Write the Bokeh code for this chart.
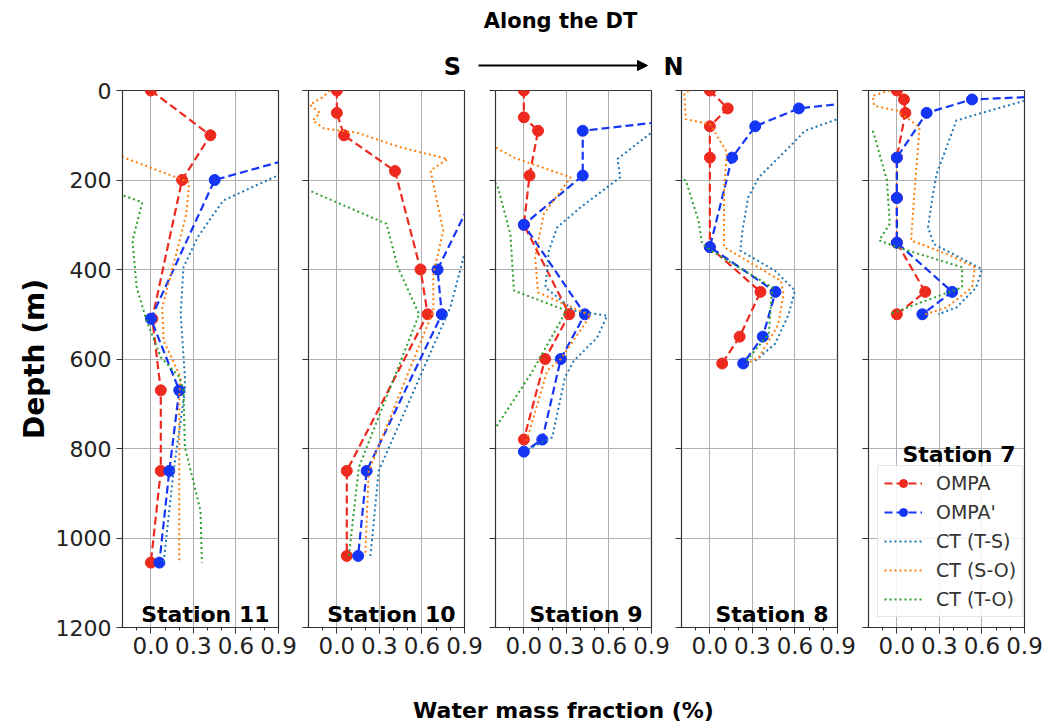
from bokeh.plotting import figure
from bokeh.models import (Range1d, FixedTicker, PrintfTickFormatter, CustomJSTickFormatter,
                          Label, Legend, LegendItem, Arrow, NormalHead)
from bokeh.layouts import row, column
from bokeh.embed import file_html
from bokeh.resources import INLINE

# ---------------- data ----------------
stations = ["Station 11", "Station 10", "Station 9", "Station 8", "Station 7"]
x_ticks = [0.0, 0.3, 0.6, 0.9]
x_minor = [-0.1, 0.1, 0.2, 0.4, 0.5, 0.7, 0.8]
depth_ticks = [0, 200, 400, 600, 800, 1000, 1200]
legend_labels = ["OMPA", "OMPA'", "CT (T-S)", "CT (S-O)", "CT (T-O)"]

# Station 11
s11_ompa_depth = [0, 100, 200, 510, 670, 850, 1055]
s11_ompa = [0.0, 0.42, 0.22, 0.01, 0.07, 0.07, 0.0]
s11_ompa2_depth = [0, 100, 200, 510, 670, 850, 1055]
s11_ompa2 = [1.3, 1.58, 0.45, 0.0, 0.2, 0.13, 0.06]
s11_ts_depth = [150, 189, 246, 328, 395, 500, 640, 670, 850, 1055]
s11_ts = [1.17, 0.9, 0.51, 0.33, 0.23, 0.21, 0.24, 0.24, 0.16, 0.09]
s11_so_depth = [100, 151, 205, 276, 388, 485, 559, 641, 680, 1055]
s11_so = [-0.6, -0.18, 0.27, 0.25, 0.16, 0.08, 0.09, 0.21, 0.2, 0.2]
s11_to_depth = [200, 235, 250, 336, 440, 514, 596, 640, 670, 797, 939, 1055]
s11_to = [-0.49, -0.19, -0.06, -0.13, -0.1, -0.03, 0.07, 0.2, 0.23, 0.24, 0.35, 0.36]

# Station 10
s10_ompa_depth = [0, 50, 100, 180, 400, 500, 850, 1040]
s10_ompa = [0.0, 0.0, 0.05, 0.41, 0.59, 0.64, 0.07, 0.07]
s10_ompa2_depth = [0, 50, 100, 180, 400, 500, 850, 1040]
s10_ompa2 = [1.3, 1.3, 1.2, 1.05, 0.71, 0.74, 0.21, 0.15]
s10_ts_depth = [180, 365, 485, 850, 1040]
s10_ts = [1.1, 0.9, 0.8, 0.295, 0.237]
s10_so_depth = [0, 15, 32, 50, 67, 85, 94, 127, 153, 179, 313, 410, 492, 850, 1040]
s10_so = [-0.05, -0.1, -0.19, -0.12, -0.17, -0.09, 0.14, 0.45, 0.78, 0.66, 0.75, 0.68, 0.68, 0.225, 0.2]
s10_to_depth = [200, 224, 298, 395, 500, 842, 1040]
s10_to = [-0.45, -0.19, 0.35, 0.43, 0.58, 0.155, 0.085]

# Station 9
s9_ompa_depth = [0, 60, 90, 190, 300, 500, 600, 780]
s9_ompa = [0.0, 0.0, 0.1, 0.04, 0.0, 0.32, 0.15, 0.0]
s9_ompa2_depth = [0, 60, 90, 190, 300, 500, 600, 780, 807]
s9_ompa2 = [1.3, 1.25, 0.415, 0.415, 0.0, 0.43, 0.26, 0.13, 0.0]
s9_ts_depth = [60, 94, 153, 194, 261, 306, 358, 440, 492, 503, 552, 604, 641, 775, 801]
s9_ts = [1.3, 0.9, 0.66, 0.68, 0.4, 0.235, 0.176, 0.152, 0.352, 0.587, 0.517, 0.352, 0.29, 0.2, 0.035]
s9_so_depth = [100, 127, 150, 194, 276, 373, 451, 503, 600, 626, 782]
s9_so = [-0.35, -0.2, -0.07, 0.33, 0.14, 0.08, 0.1, 0.47, 0.26, 0.165, 0.02]
s9_to_depth = [180, 209, 321, 447, 492, 633, 749, 770]
s9_to = [-0.4, -0.19, -0.095, -0.07, 0.3, 0.05, -0.19, -0.25]

# Station 8
s8_ompa_depth = [0, 40, 80, 150, 350, 450, 550, 610]
s8_ompa = [0.0, 0.126, 0.0, 0.0, 0.0, 0.357, 0.21, 0.087]
s8_ompa2_depth = [0, 40, 80, 150, 350, 450, 550, 610]
s8_ompa2 = [1.8, 0.627, 0.32, 0.157, 0.0, 0.463, 0.373, 0.235]
s8_ts_depth = [30, 64, 90, 120, 194, 239, 313, 358, 403, 447, 500, 566, 604]
s8_ts = [1.3, 0.9, 0.67, 0.58, 0.345, 0.27, 0.23, 0.215, 0.46, 0.6, 0.556, 0.46, 0.32]
s8_so_depth = [0, 8, 64, 75, 138, 224, 350, 425, 455, 525, 596, 611]
s8_so = [-0.15, -0.18, -0.17, 0.0, 0.12, 0.1, 0.1, 0.5, 0.52, 0.48, 0.345, 0.26]
s8_to_depth = [180, 201, 291, 343, 360, 440, 544, 607]
s8_to = [-0.35, -0.17, -0.08, -0.055, 0.02, 0.44, 0.415, 0.25]

# Station 7
s7_ompa_depth = [0, 20, 50, 150, 240, 340, 450, 500]
s7_ompa = [0.0, 0.05, 0.06, 0.0, 0.0, 0.0, 0.2, 0.0]
s7_ompa2_depth = [0, 20, 50, 150, 240, 340, 450, 500]
s7_ompa2 = [2.0, 0.53, 0.21, 0.0, 0.0, 0.0, 0.39, 0.18]
s7_ts_depth = [0, 23, 49, 67, 127, 187, 240, 306, 343, 399, 440, 485, 500]
s7_ts = [1.6, 0.9, 0.61, 0.42, 0.35, 0.28, 0.25, 0.22, 0.26, 0.6, 0.56, 0.42, 0.29]
s7_so_depth = [0, 12, 34, 45, 82, 127, 201, 335, 365, 395, 440, 485, 500]
s7_so = [-0.05, -0.17, -0.16, 0.0, 0.16, 0.15, 0.13, 0.1, 0.35, 0.55, 0.53, 0.35, 0.2]
s7_to_depth = [90, 110, 201, 298, 335, 350, 395, 440, 470, 500]
s7_to = [-0.17, -0.15, -0.07, -0.05, -0.125, 0.0, 0.46, 0.46, 0.2, -0.05]

station_data = [
    (s11_ompa_depth, s11_ompa, s11_ompa2_depth, s11_ompa2, s11_ts_depth, s11_ts, s11_so_depth, s11_so, s11_to_depth, s11_to),
    (s10_ompa_depth, s10_ompa, s10_ompa2_depth, s10_ompa2, s10_ts_depth, s10_ts, s10_so_depth, s10_so, s10_to_depth, s10_to),
    (s9_ompa_depth, s9_ompa, s9_ompa2_depth, s9_ompa2, s9_ts_depth, s9_ts, s9_so_depth, s9_so, s9_to_depth, s9_to),
    (s8_ompa_depth, s8_ompa, s8_ompa2_depth, s8_ompa2, s8_ts_depth, s8_ts, s8_so_depth, s8_so, s8_to_depth, s8_to),
    (s7_ompa_depth, s7_ompa, s7_ompa2_depth, s7_ompa2, s7_ts_depth, s7_ts, s7_so_depth, s7_so, s7_to_depth, s7_to),
]

# ---------------- style ----------------
FONT = "DejaVu Sans"
RED = "#ee2a1f"
BLUE = "#1535f5"
TS_C = "#1f77b4"
SO_C = "#ff7f0e"
TO_C = "#2ca02c"
FRAME_C = "#333333"
GRID_C = "#b0b0b0"

left_borders = [122, 8, 9, 8, 8]
right_borders = [22, 22, 22, 23, 24]
label_depths = [1171, 1171, 1171, 1171, 814]
FRAME_W, FRAME_H = 156, 537
TOP_B, BOT_B = 10, 50

panels = []
for i, name in enumerate(stations):
    lb, rb = left_borders[i], right_borders[i]
    p = figure(width=lb + FRAME_W + rb, height=TOP_B + FRAME_H + BOT_B,
               x_range=Range1d(-0.2, 0.9), y_range=Range1d(1200, 0),
               output_backend="svg", toolbar_location=None,
               min_border_left=lb, min_border_right=rb,
               min_border_top=TOP_B, min_border_bottom=BOT_B)
    p.outline_line_color = FRAME_C
    p.outline_line_width = 1.2
    p.background_fill_color = "white"
    p.border_fill_color = "white"

    p.xaxis.ticker = FixedTicker(ticks=x_ticks, minor_ticks=x_minor)
    p.xaxis.formatter = PrintfTickFormatter(format="%.1f")
    p.xaxis.major_label_text_font = FONT
    p.xaxis.major_label_text_font_size = "23px"
    p.xaxis.major_label_text_color = "#222222"
    p.xaxis.major_label_standoff = 3
    p.xaxis.major_tick_out = 6
    p.xaxis.major_tick_in = 0
    p.xaxis.minor_tick_out = 3
    p.xaxis.minor_tick_in = 0
    p.xaxis.axis_line_color = FRAME_C
    p.xaxis.major_tick_line_color = FRAME_C
    p.xaxis.minor_tick_line_color = FRAME_C

    p.yaxis.ticker = FixedTicker(ticks=depth_ticks, minor_ticks=[])
    p.yaxis.major_tick_out = 6
    p.yaxis.major_tick_in = 0
    p.yaxis.minor_tick_out = 0
    p.yaxis.minor_tick_in = 0
    p.yaxis.axis_line_color = FRAME_C
    p.yaxis.major_tick_line_color = FRAME_C
    if i == 0:
        p.yaxis.major_label_text_font = FONT
        p.yaxis.major_label_text_font_size = "22px"
        p.yaxis.major_label_text_color = "#222222"
        p.yaxis.major_label_standoff = 5
        p.yaxis.axis_label = "Depth (m)"
        p.yaxis.axis_label_text_font = FONT
        p.yaxis.axis_label_text_font_size = "28px"
        p.yaxis.axis_label_text_font_style = "bold"
        p.yaxis.axis_label_text_color = "black"
        p.yaxis.axis_label_standoff = 2
    else:
        p.yaxis.formatter = CustomJSTickFormatter(code="return ''")
        p.yaxis.major_label_standoff = 0

    p.xgrid.ticker = FixedTicker(ticks=x_ticks)
    p.ygrid.ticker = FixedTicker(ticks=depth_ticks)
    p.grid.grid_line_color = GRID_C
    p.grid.grid_line_width = 1

    (od, ov, o2d, o2v, tsd, tsv, sod, sov, tod, tov) = station_data[i]
    r_line = p.line(ov, od, color=RED, line_width=2.2, line_dash="8 4")
    r_pt = p.scatter(ov, od, size=11, color=RED)
    b_line = p.line(o2v, o2d, color=BLUE, line_width=2.2, line_dash="8 4")
    b_pt = p.scatter(o2v, o2d, size=11, color=BLUE)
    ts_line = p.line(tsv, tsd, color=TS_C, line_width=2, line_dash="2 3")
    so_line = p.line(sov, sod, color=SO_C, line_width=2, line_dash="2 3")
    to_line = p.line(tov, tod, color=TO_C, line_width=2, line_dash="2 3")

    p.add_layout(Label(x=0.9, y=label_depths[i], x_offset=-9, text=name,
                       text_align="right", text_baseline="alphabetic",
                       text_font=FONT, text_font_size="22px", text_font_style="bold",
                       text_color="black"))

    if i == len(stations) - 1:
        items = [LegendItem(label=legend_labels[0], renderers=[r_line, r_pt]),
                 LegendItem(label=legend_labels[1], renderers=[b_line, b_pt]),
                 LegendItem(label=legend_labels[2], renderers=[ts_line]),
                 LegendItem(label=legend_labels[3], renderers=[so_line]),
                 LegendItem(label=legend_labels[4], renderers=[to_line])]
        leg = Legend(items=items, location=(9, 10))
        leg.label_text_font = FONT
        leg.label_text_font_size = "19px"
        leg.label_text_color = "#333333"
        leg.glyph_width = 38
        leg.glyph_height = 20
        leg.label_height = 20
        leg.label_standoff = 14
        leg.padding = 6
        leg.spacing = 7
        leg.margin = 0
        leg.border_line_color = "#cccccc"
        leg.border_line_width = 1
        leg.background_fill_alpha = 0.85
        p.add_layout(leg)
    panels.append(p)

# ---------------- header and footer ----------------
top = figure(width=1048, height=80, x_range=Range1d(0, 1048), y_range=Range1d(80, 0),
             output_backend="svg", toolbar_location=None,
             x_axis_location=None, y_axis_location=None, min_border=0)
top.grid.visible = False
top.outline_line_color = None
top.add_layout(Label(x=560, y=20, text="Along the DT", text_align="center", text_baseline="middle",
                     text_font=FONT, text_font_size="21px", text_font_style="bold", text_color="black"))
top.add_layout(Label(x=452, y=66, text="S", text_align="center", text_baseline="middle",
                     text_font=FONT, text_font_size="24px", text_font_style="bold", text_color="black"))
top.add_layout(Label(x=673, y=66, text="N", text_align="center", text_baseline="middle",
                     text_font=FONT, text_font_size="24px", text_font_style="bold", text_color="black"))
top.add_layout(Arrow(end=NormalHead(size=10, fill_color="black", line_color="black"),
                     x_start=478, y_start=65, x_end=647, y_end=65, line_width=2, line_color="black"))

bottom = figure(width=1048, height=51, x_range=Range1d(0, 1048), y_range=Range1d(51, 0),
                output_backend="svg", toolbar_location=None,
                x_axis_location=None, y_axis_location=None, min_border=0)
bottom.grid.visible = False
bottom.outline_line_color = None
bottom.add_layout(Label(x=563, y=33, text="Water mass fraction (%)", text_align="center",
                        text_baseline="middle", text_font=FONT, text_font_size="22px",
                        text_font_style="bold", text_color="black"))

layout = column(top, row(*panels), bottom)
open("out.html", "w").write(file_html(layout, INLINE))
